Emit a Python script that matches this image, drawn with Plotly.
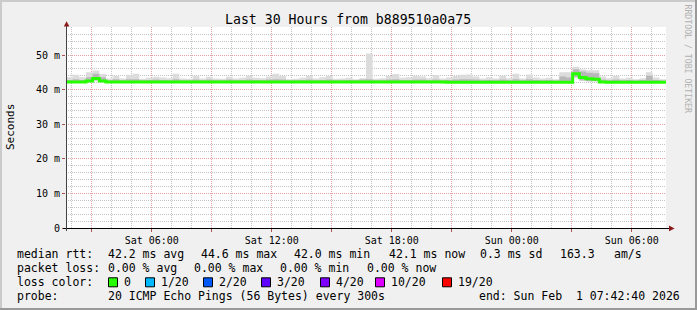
import plotly.graph_objects as go
import pandas as pd

# ---------------- data ----------------
TITLE = "Last 30 Hours from b889510a0a75"
START = "2026-01-31 01:42:40"
END = "2026-02-01 07:42:40"
BIN = "20min"

# median rtt per 20-minute bin (ms)
median_ms = [
    42.2, 42.2, 42.2, 42.5, 43.2, 42.5, 42.2, 42.2, 42.2, 42.2,
    42.2, 42.2, 42.2, 42.2, 42.2, 42.2, 42.2, 42.2, 42.2, 42.2,
    42.2, 42.2, 42.2, 42.2, 42.2, 42.2, 42.2, 42.2, 42.2, 42.2,
    42.2, 42.2, 42.2, 42.2, 42.2, 42.2, 42.2, 42.2, 42.2, 42.2,
    42.2, 42.2, 42.2, 42.2, 42.2, 42.2, 42.2, 42.2, 42.2, 42.2,
    42.2, 42.2, 42.2, 42.2, 42.2, 42.2, 42.2, 42.1, 42.1, 42.1,
    42.1, 42.1, 42.1, 42.1, 42.1, 42.1, 42.1, 42.1, 42.1, 42.1,
    42.1, 42.1, 42.1, 42.1, 42.1, 42.1, 44.6, 43.5, 43.1, 43.0,
    42.2, 42.1, 42.1, 42.1, 42.1, 42.1, 42.1, 42.1, 42.1, 42.1,
]
# lowest ping per bin (ms)
smoke_lo_ms = [
    42.0, 42.0, 42.0, 42.2, 42.6, 42.2, 42.0, 42.0, 42.0, 42.0,
    42.0, 42.0, 42.0, 42.0, 42.0, 42.0, 42.0, 42.0, 42.0, 42.0,
    42.0, 42.0, 42.0, 42.0, 42.0, 42.0, 42.0, 42.0, 42.0, 42.0,
    42.0, 42.0, 42.0, 42.0, 42.0, 42.0, 42.0, 42.0, 42.0, 42.0,
    42.0, 42.0, 42.0, 42.0, 42.0, 42.0, 42.0, 42.0, 42.0, 42.0,
    42.0, 42.0, 42.0, 42.0, 42.0, 42.0, 42.0, 41.9, 41.9, 41.9,
    41.9, 41.9, 41.9, 41.9, 41.9, 41.9, 41.9, 41.9, 41.9, 41.9,
    41.9, 41.9, 41.9, 41.9, 41.9, 41.9, 43.6, 42.6, 42.4, 42.4,
    42.0, 41.9, 41.9, 41.9, 41.9, 41.9, 41.9, 41.9, 41.9, 41.9,
]
# upper edge of the denser smoke (ms)
smoke_mid_ms = [
    42.8, 43.0, 42.8, 43.6, 44.6, 43.6, 42.7, 43.0, 42.7, 43.0,
    43.0, 42.7, 42.8, 42.9, 42.8, 42.7, 43.0, 42.7, 42.7, 42.9,
    42.7, 42.9, 42.7, 42.7, 42.9, 42.7, 42.8, 42.9, 42.8, 42.7,
    42.9, 43.0, 42.9, 42.7, 42.7, 42.8, 42.9, 42.7, 42.8, 42.9,
    42.7, 42.7, 42.8, 42.7, 42.9, 43.0, 42.7, 42.7, 42.9, 43.0,
    42.8, 42.8, 42.9, 42.9, 42.7, 42.9, 42.7, 42.8, 42.9, 43.0,
    43.0, 42.9, 42.7, 42.8, 42.7, 42.9, 42.7, 43.0, 42.7, 43.0,
    42.8, 42.7, 42.8, 42.6, 43.8, 43.5, 45.9, 45.2, 44.9, 44.7,
    42.9, 42.7, 42.9, 42.7, 42.8, 42.6, 42.8, 44.0, 42.8, 42.6,
]
# highest ping per bin (ms)
smoke_hi_ms = [
    43.6, 44.3, 43.6, 45.0, 45.5, 44.5, 43.2, 44.0, 43.2, 44.3,
    44.6, 43.1, 43.4, 43.7, 43.5, 43.3, 44.6, 43.2, 43.1, 44.0,
    43.2, 43.7, 43.2, 43.1, 43.7, 43.2, 43.4, 44.0, 43.4, 43.3,
    43.8, 44.6, 43.9, 43.0, 43.1, 43.4, 44.0, 43.2, 43.6, 44.0,
    43.1, 43.2, 43.4, 43.0, 43.3, 50.4, 43.1, 43.3, 43.9, 44.5,
    43.4, 43.6, 44.0, 43.8, 43.3, 44.2, 43.2, 43.5, 43.9, 44.3,
    44.4, 43.8, 43.2, 43.6, 43.2, 44.0, 43.3, 44.6, 43.2, 44.4,
    43.5, 43.2, 43.4, 43.0, 45.0, 45.0, 46.6, 45.8, 45.6, 45.6,
    43.8, 43.3, 43.9, 43.2, 43.4, 43.0, 43.3, 45.0, 43.5, 43.0,
]

y_tick_vals = [0, 10, 20, 30, 40, 50]
y_tick_text = ["0", "10 m", "20 m", "30 m", "40 m", "50 m"]
x_tick_vals = ["2026-01-31 03:00", "2026-01-31 06:00", "2026-01-31 09:00",
               "2026-01-31 12:00", "2026-01-31 15:00", "2026-01-31 18:00",
               "2026-01-31 21:00", "2026-02-01 00:00", "2026-02-01 03:00",
               "2026-02-01 06:00"]
x_tick_text = ["", "Sat 06:00", "", "Sat 12:00", "", "Sat 18:00", "",
               "Sun 00:00", "", "Sun 06:00"]

legend_rows = [
    [(16, "median rtt:"), (107, "42.2 ms avg"), (200, "44.6 ms max"),
     (293, "42.0 ms min"), (388, "42.1 ms now"), (479, "0.3 ms sd"),
     (559, "163.3"), (613, "am/s")],
    [(16, "packet loss:"), (107, "0.00 % avg"), (193, "0.00 % max"),
     (279, "0.00 % min"), (366, "0.00 % now")],
    [(16, "loss color:")],
    [(16, "probe:"), (107, "20 ICMP Echo Pings (56 Bytes) every 300s"),
     (478, "end: Sun Feb  1 07:42:40 2026")],
]
loss_labels = ["0", "1/20", "2/20", "3/20", "4/20", "10/20", "19/20"]
loss_colors = ["#26ff00", "#00b8ff", "#0059ff", "#5e00ff", "#7e00ff", "#dd00ff", "#ff0000"]
loss_label_x = [123, 160, 218, 276, 335, 390, 457]

# ---------------- layout geometry ----------------
W, H = 697, 310
L, R, T, B = 66, 666, 27, 228
FONT = "DejaVu Sans Mono"


def px(x):
    return (x - L) / (R - L)


def py(y):
    return (B - y) / (B - T)


times = pd.date_range(START, periods=len(median_ms) + 1, freq=BIN)


def step(vals):
    return list(vals) + [vals[-1]]


fig = go.Figure()
common = dict(x=times, mode="lines", line_shape="hv", hoverinfo="skip", showlegend=False)
fig.add_trace(go.Scatter(y=step(smoke_lo_ms), line=dict(width=0, color="rgba(0,0,0,0)"), **common))
fig.add_trace(go.Scatter(y=step(smoke_hi_ms), line=dict(width=0, color="rgba(0,0,0,0)"),
                         fill="tonexty", fillcolor="#dcdcdc", **common))
fig.add_trace(go.Scatter(y=step(smoke_lo_ms), line=dict(width=0, color="rgba(0,0,0,0)"), **common))
fig.add_trace(go.Scatter(y=step(smoke_mid_ms), line=dict(width=0, color="rgba(0,0,0,0)"),
                         fill="tonexty", fillcolor="#b8b8b8", **common))
fig.add_trace(go.Scatter(y=step(median_ms), line=dict(width=3, color="#26ff00"), **common))

shapes = []
# frame shading
shapes += [
    dict(type="rect", xref="paper", yref="paper", x0=px(0), x1=px(2), y0=py(H), y1=py(0),
         fillcolor="#cbcbcb", line_width=0),
    dict(type="rect", xref="paper", yref="paper", x0=px(0), x1=px(W), y0=py(2), y1=py(0),
         fillcolor="#cbcbcb", line_width=0),
    dict(type="rect", xref="paper", yref="paper", x0=px(W - 2), x1=px(W), y0=py(H), y1=py(0),
         fillcolor="#999999", line_width=0),
    dict(type="rect", xref="paper", yref="paper", x0=px(0), x1=px(W), y0=py(H), y1=py(H - 2),
         fillcolor="#999999", line_width=0),
]
# axes + arrows
shapes += [
    dict(type="line", xref="paper", yref="paper", x0=px(63), x1=px(669), y0=py(228.5), y1=py(228.5),
         line=dict(color="#000000", width=1)),
    dict(type="line", xref="paper", yref="paper", x0=px(66.5), x1=px(66.5), y0=py(231), y1=py(26),
         line=dict(color="#444444", width=1)),
    dict(type="path", xref="paper", yref="paper",
         path=f"M {px(63.8)},{py(26.5)} L {px(69.4)},{py(26.5)} L {px(66.6)},{py(21.2)} Z",
         fillcolor="#8b1a1a", line_width=0),
    dict(type="path", xref="paper", yref="paper",
         path=f"M {px(669)},{py(225.5)} L {px(669)},{py(231.3)} L {px(674.6)},{py(228.4)} Z",
         fillcolor="#8b1a1a", line_width=0),
]

annotations = [
    dict(text=TITLE, x=px(347.5), y=py(19.3), xref="paper", yref="paper", showarrow=False,
         xanchor="center", yanchor="middle", font=dict(family=FONT, size=13.2, color="#000")),
    dict(text="Seconds", x=px(11), y=py(127), xref="paper", yref="paper", showarrow=False,
         textangle=-90, xanchor="center", yanchor="middle",
         font=dict(family=FONT, size=11, color="#000")),
    dict(text="RRDTOOL / TOBI OETIKER", x=px(687.5), y=py(59), xref="paper", yref="paper",
         showarrow=False, textangle=90, xanchor="center", yanchor="middle",
         font=dict(family=FONT, size=8.2, color="#b0b0b0")),
]
row_y = [254.3, 268.3, 282.3, 296.3]
for ry, row in zip(row_y, legend_rows):
    for x, t in row:
        annotations.append(dict(text=t.replace(" ", "\u00a0"), x=px(x), y=py(ry), xref="paper",
                                yref="paper", showarrow=False, xanchor="left", yanchor="middle",
                                borderpad=0, font=dict(family=FONT, size=11.5, color="#000")))
for lab, col, lx in zip(loss_labels, loss_colors, loss_label_x):
    bx = lx - 15
    shapes.append(dict(type="rect", xref="paper", yref="paper", x0=px(bx + 0.5), x1=px(bx + 9.5),
                       y0=py(row_y[2] + 4.5), y1=py(row_y[2] - 4.5), fillcolor=col,
                       line=dict(color="#000", width=1)))
    annotations.append(dict(text=lab, x=px(lx), y=py(row_y[2]), xref="paper", yref="paper",
                            showarrow=False, xanchor="left", yanchor="middle", borderpad=0,
                            font=dict(family=FONT, size=11.5, color="#000")))

fig.update_layout(
    width=W, height=H,
    margin=dict(l=L, r=W - R, t=T, b=H - B, pad=0),
    paper_bgcolor="#f0f0f0", plot_bgcolor="#ffffff",
    shapes=shapes, annotations=annotations,
    showlegend=False,
    xaxis=dict(type="date", range=[START, END], tickmode="array", tickvals=x_tick_vals,
               ticktext=x_tick_text, showgrid=True, gridcolor="#e4a0a0", griddash="1px,1px",
               gridwidth=1, ticks="outside", ticklen=3, tickcolor="#b05050",
               tickfont=dict(family=FONT, size=10, color="#000"), zeroline=False, showline=False,
               minor=dict(dtick=3600000, tick0="2026-01-31 02:00", showgrid=True,
                          gridcolor="#c4c4c4", griddash="1px,1px", ticks=""),
               fixedrange=True),
    yaxis=dict(range=[0, (B - T) / 3.46], tickmode="array", tickvals=y_tick_vals,
               ticktext=y_tick_text, showgrid=True, gridcolor="#e4a0a0", griddash="1px,1px",
               ticks="outside", ticklen=3, tickcolor="#b05050",
               tickfont=dict(family=FONT, size=10, color="#000"), zeroline=False, showline=False,
               minor=dict(dtick=2, tick0=0, showgrid=True, gridcolor="#c4c4c4",
                          griddash="1px,1px", ticks=""),
               fixedrange=True),
)

fig.write_html("out.html")
